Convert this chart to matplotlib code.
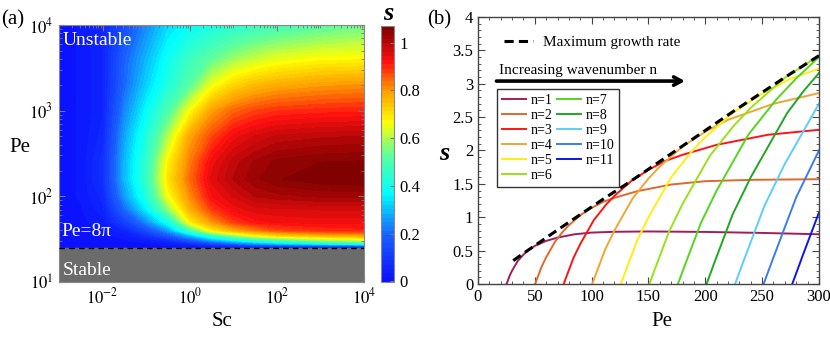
import numpy as np
import matplotlib
matplotlib.use('Agg')
import matplotlib.pyplot as plt
from matplotlib.colors import LinearSegmentedColormap
from matplotlib.ticker import MultipleLocator, FuncFormatter, FixedLocator

plt.rcParams['font.family'] = ['Liberation Serif', 'DejaVu Serif']
plt.rcParams['mathtext.fontset'] = 'stix'

# ---- panel (a): growth rate map s(Sc, Pe)
log_sc = [-3, -2.5, -2, -1.5, -1, -0.5, 0, 0.5, 1, 1.5, 2, 3, 4]
log_pe = [1.401, 1.44, 1.48, 1.54, 1.6, 1.7, 1.85, 2.0, 2.2, 2.4, 2.7, 3.0, 3.3, 3.6, 4.0]
s_map = [
    [0.000, 0.000, 0.000, 0.000, 0.00, 0.00, 0.00, 0.000, 0.00, 0.000, 0.00, 0.000, 0.000],
    [0.000, 0.000, 0.000, 0.005, 0.01, 0.03, 0.06, 0.110, 0.17, 0.220, 0.27, 0.330, 0.370],
    [0.000, 0.000, 0.005, 0.010, 0.03, 0.06, 0.15, 0.250, 0.33, 0.410, 0.47, 0.550, 0.600],
    [0.000, 0.003, 0.010, 0.030, 0.08, 0.17, 0.29, 0.450, 0.57, 0.660, 0.71, 0.760, 0.780],
    [0.002, 0.005, 0.020, 0.050, 0.14, 0.26, 0.48, 0.680, 0.77, 0.820, 0.865, 0.890, 0.900],
    [0.003, 0.010, 0.030, 0.120, 0.24, 0.40, 0.68, 0.800, 0.88, 0.920, 0.93, 0.935, 0.935],
    [0.005, 0.015, 0.045, 0.200, 0.355, 0.57, 0.77, 0.880, 0.935, 0.955, 0.96, 0.965, 0.965],
    [0.005, 0.020, 0.060, 0.260, 0.42, 0.66, 0.81, 0.925, 0.965, 1.000, 1.01, 1.020, 1.020],
    [0.005, 0.020, 0.080, 0.290, 0.46, 0.70, 0.84, 0.950, 1.00, 1.030, 1.05, 1.065, 1.070],
    [0.005, 0.020, 0.080, 0.290, 0.45, 0.68, 0.825, 0.935, 0.99, 1.020, 1.04, 1.052, 1.055],
    [0.005, 0.020, 0.060, 0.270, 0.42, 0.60, 0.785, 0.870, 0.935, 0.965, 0.985, 0.995, 1.000],
    [0.005, 0.020, 0.050, 0.235, 0.37, 0.50, 0.665, 0.790, 0.845, 0.875, 0.89, 0.900, 0.905],
    [0.005, 0.020, 0.050, 0.200, 0.32, 0.42, 0.52, 0.650, 0.72, 0.755, 0.775, 0.795, 0.805],
    [0.005, 0.020, 0.050, 0.190, 0.29, 0.39, 0.47, 0.530, 0.585, 0.620, 0.645, 0.670, 0.675],
    [0.005, 0.020, 0.055, 0.150, 0.24, 0.33, 0.38, 0.410, 0.44, 0.465, 0.485, 0.515, 0.540],
]
pe_crit = 8 * np.pi
s_max_cbar = 1.07

# ---- panel (b): s(Pe) for each wavenumber n
pe_n1 = [25.1, 26, 27, 28, 29, 30, 32, 35, 40, 45, 50, 60, 70, 85, 100, 120, 150, 200, 250, 300]
s_n1 = [0, 0.04, 0.085, 0.13, 0.165, 0.20, 0.26, 0.345, 0.44, 0.515, 0.57, 0.645, 0.695, 0.745, 0.77, 0.782, 0.787, 0.78, 0.765, 0.745]
pe_n2 = [50.3, 52, 54, 56, 58, 60, 64, 68, 75, 80, 90, 100, 110, 120, 140, 170, 200, 240, 300]
s_n2 = [0, 0.08, 0.17, 0.26, 0.33, 0.40, 0.52, 0.64, 0.79, 0.88, 1.03, 1.14, 1.23, 1.29, 1.39, 1.49, 1.54, 1.56, 1.57]
pe_n3 = [75.4, 78, 81, 84, 87, 90, 96, 102, 112.5, 120, 135, 150, 165, 180, 210, 255, 300]
s_n3 = [0, 0.12, 0.255, 0.39, 0.495, 0.60, 0.78, 0.96, 1.185, 1.32, 1.545, 1.71, 1.845, 1.935, 2.085, 2.235, 2.31]
pe_n4 = [100.5, 104, 108, 112, 116, 120, 128, 136, 150, 160, 180, 200, 220, 240, 260, 280, 300]
s_n4 = [0, 0.16, 0.34, 0.52, 0.66, 0.80, 1.04, 1.28, 1.58, 1.76, 2.06, 2.28, 2.46, 2.58, 2.70, 2.78, 2.86]
pe_n5 = [125.7, 130, 135, 140, 145, 150, 160, 170, 187.5, 200, 225, 250, 275, 300]
s_n5 = [0, 0.20, 0.425, 0.65, 0.825, 1.0, 1.30, 1.60, 1.975, 2.20, 2.575, 2.85, 3.075, 3.225]
pe_n6 = [150.8, 156, 162, 168, 174, 180, 192, 204, 225, 240, 270, 300]
s_n6 = [0, 0.24, 0.51, 0.78, 0.99, 1.20, 1.56, 1.92, 2.37, 2.64, 3.09, 3.42]
pe_n7 = [175.9, 182, 189, 196, 203, 210, 224, 238, 262.5, 280, 300]
s_n7 = [0, 0.28, 0.595, 0.91, 1.155, 1.40, 1.82, 2.24, 2.765, 3.08, 3.40]
pe_n8 = [201.1, 208, 216, 224, 232, 240, 256, 272, 286, 300]
s_n8 = [0, 0.32, 0.68, 1.04, 1.32, 1.60, 2.08, 2.56, 2.88, 3.16]
pe_n9 = [226.2, 234, 243, 252, 261, 270, 288, 300]
s_n9 = [0, 0.36, 0.765, 1.17, 1.485, 1.80, 2.34, 2.70]
pe_n10 = [251.3, 260, 270, 280, 290, 300]
s_n10 = [0, 0.40, 0.85, 1.30, 1.65, 2.00]
pe_n11 = [276.5, 286, 297, 300]
s_n11 = [0, 0.44, 0.935, 1.07]

pe_max = [31, 40, 50, 70, 90, 110, 130, 150, 175, 200, 225, 250, 275, 300]
s_max = [0.35, 0.46, 0.575, 0.81, 1.04, 1.27, 1.49, 1.72, 2.01, 2.30, 2.59, 2.87, 3.15, 3.42]

curves = [(pe_n1, s_n1), (pe_n2, s_n2), (pe_n3, s_n3), (pe_n4, s_n4), (pe_n5, s_n5),
          (pe_n6, s_n6), (pe_n7, s_n7), (pe_n8, s_n8), (pe_n9, s_n9), (pe_n10, s_n10),
          (pe_n11, s_n11)]
n_colors = ['#a21c5c', '#dc6a2c', '#ff1414', '#f0a535', '#ffee10', '#98e21a',
            '#55d420', '#1ea821', '#5ccdff', '#3a7cf0', '#0a18e0']

fig = plt.figure(figsize=(8.3, 3.37), dpi=100)

# ---------------- (a)
ax1 = fig.add_axes([0.0711, 0.1632, 0.3675, 0.7626])
cmap = LinearSegmentedColormap.from_list(
    'jetlike', [(0.0, '#0a10ff'), (0.18, '#1a60ff'), (0.345, '#00ffff'),
                (0.5, '#60ff9a'), (0.585, '#d0ff30'), (0.625, '#ffff00'),
                (0.67, '#ffd800'), (0.75, '#ff9a00'),
                (0.86, '#ff1010'), (1.0, '#7a0000')])
levels = np.linspace(-0.001, s_max_cbar, 61)
cf = ax1.contourf(log_sc, log_pe, np.array(s_map), levels=levels, cmap=cmap,
                  vmin=0, vmax=s_max_cbar)
ax1.axhspan(1, np.log10(pe_crit), color='#6b6b6b', zorder=2)
ax1.axhline(np.log10(pe_crit), color='k', lw=1.0, ls=(0, (4, 3)), zorder=3)
ax1.set_xlim(-3, 4)
ax1.set_ylim(1, 4)

ax1.set_xticks([-2, 0, 2, 4])
ax1.set_xticklabels([r'$10^{-2}$', r'$10^{0}$', r'$10^{2}$', r'$10^{4}$'])
ax1.set_yticks([1, 2, 3, 4])
ax1.set_yticklabels([r'$10^{1}$', r'$10^{2}$', r'$10^{3}$', r'$10^{4}$'])
minor_x = [d + np.log10(k) for d in range(-3, 4) for k in range(2, 10)] + [-1, 1, 3]
minor_y = [d + np.log10(k) for d in range(1, 4) for k in range(2, 10)]
ax1.xaxis.set_minor_locator(FixedLocator(minor_x))
ax1.yaxis.set_minor_locator(FixedLocator(minor_y))
ax1.tick_params(which='both', direction='in', top=True, right=True,
                color='#777777', labelsize=12, pad=4)
ax1.tick_params(which='major', length=4)
ax1.tick_params(which='minor', length=2)
for sp in ax1.spines.values():
    sp.set_color('#888888')
    sp.set_linewidth(0.8)

ax1.text(0.013, 0.938, 'Unstable', transform=ax1.transAxes, color='white',
         fontsize=14, va='center', ha='left', zorder=5)
ax1.text(0.007, 0.195, 'Pe=8π', transform=ax1.transAxes, color='white',
         fontsize=14, va='center', ha='left', zorder=5)
ax1.text(0.013, 0.043, 'Stable', transform=ax1.transAxes, color='white',
         fontsize=14, va='center', ha='left', zorder=5)

cax = fig.add_axes([0.4590, 0.1641, 0.0160, 0.7588])
cb = fig.colorbar(cf, cax=cax, ticks=[0, 0.2, 0.4, 0.6, 0.8, 1])
cb.ax.set_yticklabels(['0', '0.2', '0.4', '0.6', '0.8', '1'])
cb.ax.tick_params(direction='in', length=3, labelsize=12, color='#777777')
cb.outline.set_edgecolor('#888888')
cb.outline.set_linewidth(0.8)

fig.text(388 / 830, 1 - 14 / 337, 's', fontsize=19, style='italic',
         weight='bold', ha='center', va='center')
fig.text(0.001, 1 - 20 / 337, '(a)', fontsize=15, ha='left', va='center')
fig.text(20 / 830, 1 - 147 / 337, 'Pe', fontsize=15, ha='center', va='center')
fig.text(222 / 830, 1 - 322 / 337, 'Sc', fontsize=15, ha='center', va='center')

# ---------------- (b)
ax2 = fig.add_axes([0.5759, 0.1573, 0.4108, 0.7923])
lines = []
for i, (pe, s) in enumerate(curves):
    ln, = ax2.plot(pe, s, color=n_colors[i], lw=1.4, label='n=%d' % (i + 1))
    lines.append(ln)
dash, = ax2.plot(pe_max, s_max, color='k', lw=2.2, ls=(0, (3, 1.7)),
                 label='Maximum growth rate', zorder=5)

ax2.set_xlim(0, 300)
ax2.set_ylim(0, 4)
ax2.xaxis.set_major_locator(MultipleLocator(50))
ax2.xaxis.set_minor_locator(MultipleLocator(10))
ax2.yaxis.set_major_locator(MultipleLocator(0.5))
ax2.yaxis.set_minor_locator(MultipleLocator(0.1))
ax2.yaxis.set_major_formatter(FuncFormatter(lambda v, p: '%g' % v))
ax2.tick_params(which='both', direction='in', top=True, right=True,
                labelsize=12, color='#444444')
ax2.tick_params(which='major', length=5)
ax2.tick_params(which='minor', length=2.5)
for sp in ax2.spines.values():
    sp.set_color('#444444')
    sp.set_linewidth(1.0)

leg1 = ax2.legend(handles=[dash], loc='upper left', bbox_to_anchor=(0.075, 0.93),
                  frameon=False, fontsize=11, borderpad=0, borderaxespad=0,
                  handlelength=1.9, handletextpad=0.7)
ax2.add_artist(leg1)
leg2 = ax2.legend(handles=lines, loc='upper left', bbox_to_anchor=(0.056, 0.730),
                  ncol=2, fontsize=10, borderaxespad=0, fancybox=False,
                  edgecolor='#333333', framealpha=1, handlelength=1.75,
                  handletextpad=0.3, columnspacing=0.35, labelspacing=0.15,
                  borderpad=0.35)
leg2.get_frame().set_linewidth(1.0)

ax2.annotate('', xy=(0.607, 0.760), xytext=(0.054, 0.760), xycoords='axes fraction',
             arrowprops=dict(arrowstyle='->, head_length=0.55, head_width=0.3',
                             lw=2.6, color='k', shrinkA=0, shrinkB=0))
ax2.text(0.062, 0.798, 'Increasing wavenumber n', transform=ax2.transAxes,
         fontsize=11, ha='left', va='center')

fig.text(427 / 830, 1 - 20 / 337, '(b)', fontsize=15, ha='left', va='center')
fig.text(662 / 830, 1 - 322 / 337, 'Pe', fontsize=15, ha='center', va='center')
fig.text(444 / 830, 1 - 153 / 337, 's', fontsize=19, style='italic',
         weight='bold', ha='center', va='center')

fig.savefig('out.png', dpi=100)
